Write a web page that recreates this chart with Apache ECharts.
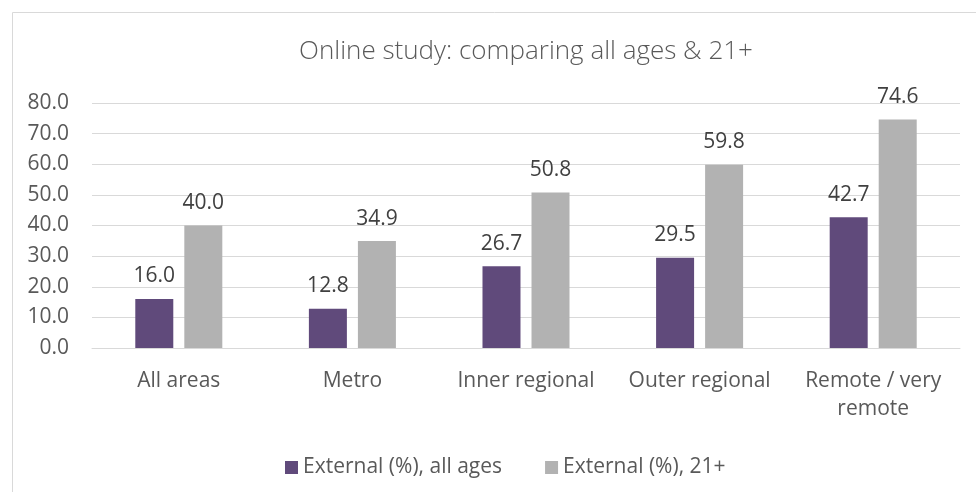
<!DOCTYPE html>
<html>
<head>
<meta charset="utf-8">
<script src="https://cdn.jsdelivr.net/npm/echarts@6/dist/echarts.min.js"></script>
<style>html,body{margin:0;padding:0;background:#fff;}#c{width:976px;height:492px;}</style>
</head>
<body>
<div id="c"></div>
<script>
var categories = ['All areas', 'Metro', 'Inner regional', 'Outer regional', 'Remote / very\nremote'];
var seriesNames = ['External (%), all ages', 'External (%), 21+'];
var allAges = [16.0, 12.8, 26.7, 29.5, 42.7];
var age21 = [40.0, 34.9, 50.8, 59.8, 74.6];
var yTicks = { min: 0, max: 80, interval: 10 };

var font = 'Open Sans';
var chart = echarts.init(document.getElementById('c'));
chart.setOption({
  animation: false,
  textStyle: { fontFamily: font },
  graphic: [{
    type: 'rect', left: 10, top: 10, silent: true,
    shape: { x: 0, y: 0, width: 980, height: 500 },
    style: { fill: 'none', stroke: '#D9D9D9', lineWidth: 1 }
  }],
  title: {
    text: 'Online study: comparing all ages & 21+',
    left: 521, textAlign: 'center', top: 34,
    textStyle: { fontFamily: font, fontWeight: 300, fontSize: 26, color: '#595959' }
  },
  legend: {
    top: 452, left: 280,
    itemWidth: 13, itemHeight: 13, itemGap: 43,
    icon: 'rect',
    textStyle: { fontSize: 21, color: '#595959', fontFamily: font }
  },
  grid: { left: 92, right: 16, top: 103, bottom: 144, containLabel: false },
  xAxis: {
    type: 'category', data: categories,
    axisLine: { lineStyle: { color: '#D9D9D9' } },
    axisTick: { show: false },
    axisLabel: { fontSize: 21, color: '#595959', margin: 19, lineHeight: 28, interval: 0 }
  },
  yAxis: {
    type: 'value', min: yTicks.min, max: yTicks.max, interval: yTicks.interval,
    axisLine: { show: false }, axisTick: { show: false },
    splitLine: { lineStyle: { color: '#D9D9D9' } },
    axisLabel: { fontSize: 21, color: '#595959', margin: 23, formatter: function (v) { return v.toFixed(1); } }
  },
  series: [
    {
      name: seriesNames[0], type: 'bar', data: allAges, barWidth: 38, barGap: '29%',
      itemStyle: { color: '#604A7B' },
      label: { show: true, position: 'top', distance: 12, fontSize: 21, color: '#404040', formatter: function (p) { return p.value.toFixed(1); } }
    },
    {
      name: seriesNames[1], type: 'bar', data: age21, barWidth: 38,
      itemStyle: { color: '#B2B2B2' },
      label: { show: true, position: 'top', distance: 12, fontSize: 21, color: '#404040', formatter: function (p) { return p.value.toFixed(1); } }
    }
  ]
});
</script>
</body>
</html>
